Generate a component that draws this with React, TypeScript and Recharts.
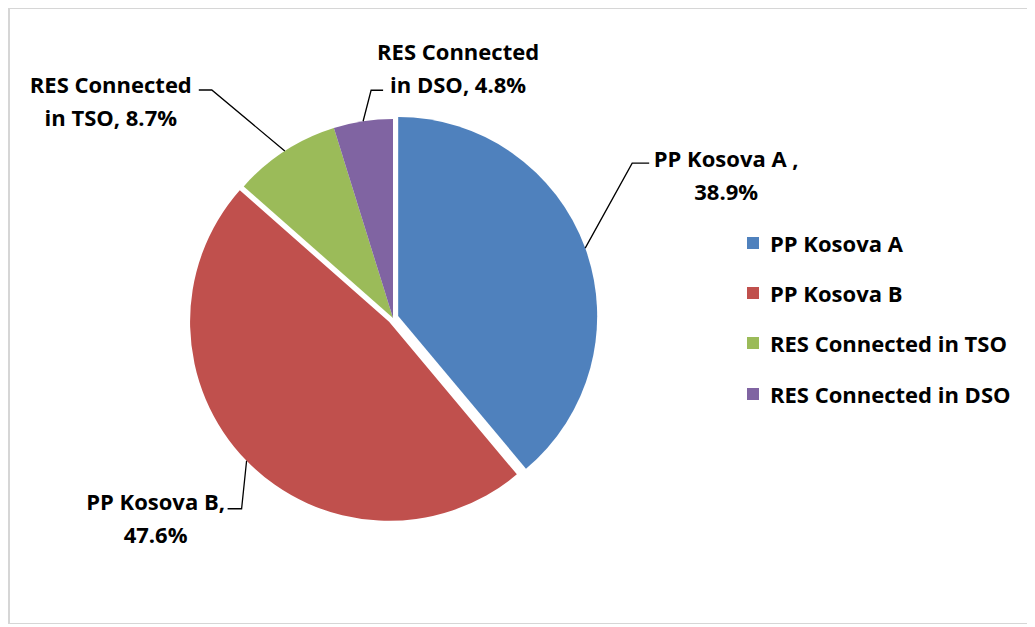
import React from 'react';
import { PieChart, Pie, Cell, Legend } from 'recharts';

const names = ['PP Kosova A', 'PP Kosova B', 'RES Connected in TSO', 'RES Connected in DSO'];
const shares = [38.9, 47.6, 8.7, 4.8];
const colors = ['#4F81BD', '#C0504D', '#9BBB59', '#8064A2'];
const labelHeads = ['PP Kosova A ,', 'PP Kosova B,', 'RES Connected', 'RES Connected'];
const labelTails = ['', '', 'in TSO, ', 'in DSO, '];
const exploded = [true, true, false, false];

const data = names.map((name, i) => ({ name, value: shares[i] }));

const FONT = "'Open Sans', sans-serif";
const CX = 385;
const CY = 310;
const R = 199;
const EXPLODE = 5.5;
const RAD = Math.PI / 180;

// explode offset for a slice (clockwise from 12 o'clock), computed from the data
const total = shares.reduce((a, b) => a + b, 0);
const explodeOffset = (idx: number) => {
  let cum = 0;
  for (let i = 0; i < idx; i++) cum += shares[i];
  const mid = ((cum + shares[idx] / 2) / total) * 360;
  return { dx: EXPLODE * Math.sin(mid * RAD), dy: -EXPLODE * Math.cos(mid * RAD) };
};

// leader line layout (style): elbow offset from slice edge, horizontal tail, text offset from tail end
const leader = [
  { ex: 47, ey: -85, hx: 17, tx: 77, ty: 4 },
  { ex: -5, ey: 48, hx: -14, tx: -72, ty: 1 },
  { ex: -73, ey: -61, hx: -13, tx: -88, ty: 3 },
  { ex: 8, ey: -31, hx: 12, tx: 75, ty: -30 },
];
const LINE_GAP = 33;

const renderLabel = (p: any) => {
  const { cx, cy, midAngle, outerRadius, index } = p;
  let sx = cx + outerRadius * Math.cos(-midAngle * RAD);
  let sy = cy + outerRadius * Math.sin(-midAngle * RAD);
  if (exploded[index]) {
    const o = explodeOffset(index);
    sx += o.dx;
    sy += o.dy;
  }
  const L = leader[index];
  const ex = sx + L.ex;
  const ey = sy + L.ey;
  const hx = ex + L.hx;
  const tx = hx + L.tx;
  const ty = ey + L.ty;
  return (
    <g key={`lbl-${index}`}>
      <polyline
        points={`${sx},${sy} ${ex},${ey} ${hx},${ey}`}
        fill="none"
        stroke="#000"
        strokeWidth={1.3}
      />
      <text
        x={tx}
        y={ty}
        textAnchor="middle"
        fontFamily={FONT}
        fontWeight={700}
        fontSize={22}
        fill="#000"
      >
        <tspan x={tx} y={ty}>{labelHeads[index]}</tspan>
        <tspan x={tx} y={ty + LINE_GAP}>{`${labelTails[index]}${shares[index].toFixed(1)}%`}</tspan>
      </text>
    </g>
  );
};

const LegendList = () => (
  <div style={{ fontFamily: FONT, fontWeight: 700, fontSize: 22, color: '#000' }}>
    {names.map((n, i) => (
      <div key={n} style={{ height: 50.2, display: 'flex', alignItems: 'center' }}>
        <span
          style={{
            display: 'inline-block',
            width: 12,
            height: 12,
            background: colors[i],
            marginRight: 11,
          }}
        />
        <span style={{ lineHeight: 'normal', whiteSpace: 'nowrap' }}>{n}</span>
      </div>
    ))}
  </div>
);

export default function App() {
  return (
    <div style={{ position: 'relative', width: 1025, height: 616 }}>
      <div
        style={{
          position: 'absolute',
          left: 0,
          top: -1,
          width: 1025,
          height: 618,
          border: '2px solid #d6d6d6',
          boxSizing: 'border-box',
        }}
      />
      <PieChart width={1025} height={615} margin={{ top: 0, right: 0, bottom: 0, left: 0 }}>
        <Pie
          data={data}
          dataKey="value"
          nameKey="name"
          cx={CX}
          cy={CY}
          outerRadius={R}
          startAngle={90}
          endAngle={-270}
          stroke="none"
          isAnimationActive={false}
          label={renderLabel}
          labelLine={false}
        >
          {data.map((d, i) => (
            <Cell key={d.name} fill={exploded[i] ? 'transparent' : colors[i]} stroke="none" />
          ))}
        </Pie>
        {data.map((d, k) =>
          exploded[k] ? (
            <Pie
              key={`ex-${d.name}`}
              data={data}
              dataKey="value"
              nameKey="name"
              cx={CX + explodeOffset(k).dx}
              cy={CY + explodeOffset(k).dy}
              outerRadius={R}
              startAngle={90}
              endAngle={-270}
              stroke="none"
              legendType="none"
              isAnimationActive={false}
            >
              {data.map((e, i) => (
                <Cell key={e.name} fill={i === k ? colors[i] : 'transparent'} stroke="none" />
              ))}
            </Pie>
          ) : null
        )}
        <Legend
          content={() => <LegendList />}
          wrapperStyle={{ position: 'absolute', left: 739, top: 210, width: 290 }}
        />
      </PieChart>
    </div>
  );
}
